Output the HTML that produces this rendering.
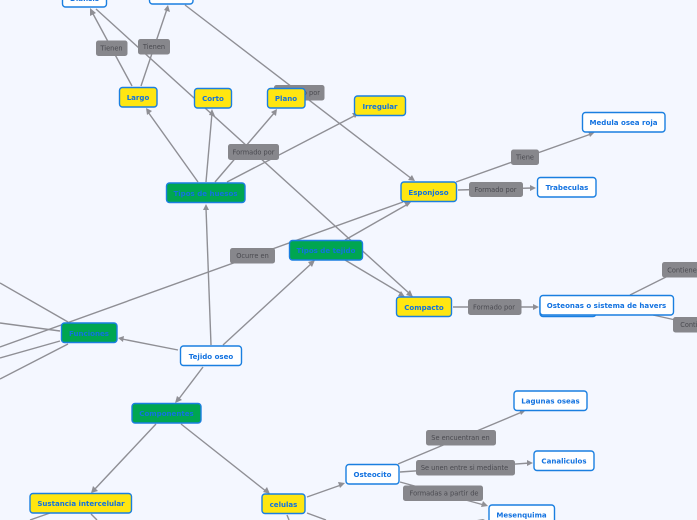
<!DOCTYPE html>
<html><head><meta charset="utf-8">
<style>
html,body{margin:0;padding:0;background:#f4f7ff;width:697px;height:520px;overflow:hidden}
svg{display:block}
.l line{stroke:#8f8f95;stroke-width:1.4;fill:none}
.a polygon{fill:#8f8f95}
.n rect{stroke:#1a7fe0;stroke-width:1.4}
.w{fill:#fff}.y{fill:#ffe611}.g{fill:#00a651}
text{font-family:"DejaVu Sans",sans-serif;text-anchor:middle}
.t{font-size:7.05px;font-weight:bold;fill:#1272e0}
.c{font-size:6.6px;fill:#4a4a50}
.b rect{fill:#87878c}
</style></head><body>
<svg width="697" height="520" viewBox="0 0 697 520" xmlns="http://www.w3.org/2000/svg">
<rect width="697" height="520" fill="#f4f7ff"/>
<g class="l">
<line x1="211" y1="345" x2="206" y2="208"/>
<line x1="223" y1="345" x2="312" y2="263"/>
<line x1="178" y1="350" x2="122" y2="339"/>
<line x1="203" y1="367" x2="178" y2="400"/>
<line x1="156" y1="424" x2="94" y2="490"/>
<line x1="181" y1="424" x2="267" y2="492"/>
<line x1="198" y1="182" x2="148" y2="112"/>
<line x1="206" y1="182" x2="212" y2="113"/>
<line x1="215" y1="182" x2="275" y2="112"/>
<line x1="227" y1="182" x2="356" y2="115"/>
<line x1="132" y1="86" x2="92" y2="12"/>
<line x1="141" y1="86" x2="167" y2="9"/>
<line x1="96" y1="9" x2="410" y2="294"/>
<line x1="185" y1="5" x2="412" y2="179"/>
<line x1="345" y1="240" x2="408" y2="204"/>
<line x1="345" y1="260" x2="402" y2="294"/>
<line x1="0" y1="347" x2="403" y2="202"/>
<line x1="0" y1="283" x2="68" y2="322"/>
<line x1="0" y1="323" x2="60" y2="331"/>
<line x1="0" y1="358" x2="60" y2="341"/>
<line x1="0" y1="379" x2="68" y2="344"/>
<line x1="456" y1="182" x2="591" y2="134"/>
<line x1="458" y1="190" x2="532" y2="188"/>
<line x1="453" y1="307" x2="536" y2="307"/>
<line x1="630" y1="295" x2="668" y2="276"/>
<line x1="653" y1="315" x2="680" y2="321"/>
<line x1="307" y1="497" x2="341" y2="485"/>
<line x1="307" y1="513" x2="326" y2="520"/>
<line x1="287" y1="515" x2="289" y2="520"/>
<line x1="50" y1="513" x2="30" y2="520"/>
<line x1="91" y1="514" x2="97" y2="520"/>
<line x1="398" y1="464" x2="522" y2="412"/>
<line x1="400" y1="472" x2="530" y2="463"/>
<line x1="400" y1="482" x2="484" y2="505"/>
</g>
<g class="a">
<polygon points="206,204 203,210 209,210"/>
<polygon points="315,260 308,262 312,267"/>
<polygon points="118,338 124,336 123,342"/>
<polygon points="175,403 177,396 182,400"/>
<polygon points="91,493 93,486 98,491"/>
<polygon points="270,494 263,492 267,487"/>
<polygon points="146,108 152,111 147,115"/>
<polygon points="212,109 209,115 215,116"/>
<polygon points="277,109 276,116 271,112"/>
<polygon points="359,113 355,118 352,113"/>
<polygon points="90,8 96,13 90,16"/>
<polygon points="168,5 170,12 164,10"/>
<polygon points="413,297 406,295 410,290"/>
<polygon points="415,181 408,180 412,175"/>
<polygon points="411,202 407,207 404,202"/>
<polygon points="405,297 398,296 401,291"/>
<polygon points="595,132 590,137 588,131"/>
<polygon points="536,188 530,185 530,191"/>
<polygon points="539,307 533,304 533,310"/>
<polygon points="345,483 340,488 338,482"/>
<polygon points="526,410 521,415 519,409"/>
<polygon points="533,463 527,460 527,466"/>
<polygon points="488,506 481,507 483,501"/>
<polygon points="483,519 477,520 485,520"/>
</g>
<g class="b">
<rect x="274" y="85" width="50.500" height="15.500" rx="2.500"/>
<rect x="96" y="40.500" width="31.500" height="15.500" rx="2.500"/>
<rect x="138" y="39" width="32" height="15.500" rx="2.500"/>
<rect x="228" y="144" width="51" height="16" rx="2.500"/>
<rect x="230" y="248" width="45" height="15.500" rx="2.500"/>
<rect x="511" y="149.500" width="28" height="15.500" rx="2.500"/>
<rect x="469" y="182" width="54" height="15" rx="2.500"/>
<rect x="468" y="299" width="53.500" height="16" rx="2.500"/>
<rect x="662" y="262" width="40" height="15.500" rx="2.500"/>
<rect x="673" y="317" width="30" height="15.500" rx="2.500"/>
<rect x="426" y="430" width="70" height="15.500" rx="2.500"/>
<rect x="416" y="460" width="99" height="15.500" rx="2.500"/>
<rect x="403" y="485.500" width="80" height="15.500" rx="2.500"/>
</g>
<g>
<text class="c" x="299" y="95">Formado por</text>
<text class="c" x="111.500" y="50.500">Tienen</text>
<text class="c" x="154" y="49">Tienen</text>
<text class="c" x="253.500" y="154.500">Formado por</text>
<text class="c" x="252.500" y="258">Ocurre en</text>
<text class="c" x="525" y="159.500">Tiene</text>
<text class="c" x="495.500" y="192">Formado por</text>
<text class="c" x="494" y="309.500">Formado por</text>
<text class="c" x="682" y="272.500">Contiene</text>
<text class="c" x="695" y="327">Contiene</text>
<text class="c" x="460.500" y="440">Se encuentran en</text>
<text class="c" x="464.500" y="470">Se unen entre si mediante</text>
<text class="c" x="444" y="495.500">Formadas a partir de</text>
</g>
<g class="n">
<rect class="w" x="62.500" y="-14" width="44" height="21" rx="3"/>
<rect class="w" x="149.500" y="-16" width="43.500" height="20" rx="3"/>
<rect class="y" x="119.500" y="87.500" width="37.500" height="19.500" rx="3"/>
<rect class="y" x="194.500" y="88.500" width="37" height="19.500" rx="3"/>
<rect class="y" x="267.500" y="88.500" width="37.500" height="19.500" rx="3"/>
<rect class="y" x="354.500" y="96" width="51" height="19.500" rx="3"/>
<rect class="g" x="166.500" y="183" width="78.500" height="19.500" rx="3"/>
<rect class="g" x="289.500" y="240.500" width="73" height="19.500" rx="3"/>
<rect class="y" x="401" y="182" width="55.500" height="19.500" rx="3"/>
<rect class="w" x="537.500" y="177.500" width="58.500" height="19.500" rx="3"/>
<rect class="w" x="582.500" y="112.500" width="82.500" height="19.500" rx="3"/>
<rect class="y" x="396.500" y="297" width="55" height="19.500" rx="3"/>
<rect class="w" x="540" y="297" width="56" height="19.500" rx="3"/>
<rect class="w" x="540" y="295.500" width="133.500" height="19.500" rx="3"/>
<rect class="g" x="61.500" y="323" width="55.500" height="19.500" rx="3"/>
<rect class="w" x="180.500" y="346" width="61" height="19.500" rx="3"/>
<rect class="g" x="132" y="403.500" width="69" height="19.500" rx="3"/>
<rect class="y" x="30" y="493.500" width="101.500" height="19.500" rx="3"/>
<rect class="y" x="262" y="494" width="43" height="19.500" rx="3"/>
<rect class="w" x="346" y="464.500" width="53" height="19.500" rx="3"/>
<rect class="w" x="514" y="391" width="73" height="19.500" rx="3"/>
<rect class="w" x="534" y="451" width="60" height="19.500" rx="3"/>
<rect class="w" x="489" y="505" width="65.500" height="25" rx="3"/>
</g>
<g>
<text class="t" x="84.500" y="1">Diafisis</text>
<text class="t" x="171" y="-2">Epifisis</text>
<text class="t" x="138" y="100">Largo</text>
<text class="t" x="213" y="101">Corto</text>
<text class="t" x="286" y="101">Plano</text>
<text class="t" x="380" y="109">Irregular</text>
<text class="t" x="205.500" y="196">Tipos de huesos</text>
<text class="t" x="326" y="253">Tipos de tejido</text>
<text class="t" x="428.500" y="195">Esponjoso</text>
<text class="t" x="567" y="190">Trabeculas</text>
<text class="t" x="623.500" y="125">Medula osea roja</text>
<text class="t" x="424" y="310">Compacto</text>
<text class="t" x="606.500" y="308">Osteonas o sistema de havers</text>
<text class="t" x="89" y="336">Funciones</text>
<text class="t" x="211" y="359">Tejido oseo</text>
<text class="t" x="166.500" y="416">Componentes</text>
<text class="t" x="81" y="506">Sustancia intercelular</text>
<text class="t" x="283.500" y="507">celulas</text>
<text class="t" x="372.500" y="477">Osteocito</text>
<text class="t" x="550.500" y="403.500">Lagunas oseas</text>
<text class="t" x="564" y="463.500">Canaliculos</text>
<text class="t" x="521.500" y="517.500">Mesenquima</text>
</g>
</svg>
</body></html>
